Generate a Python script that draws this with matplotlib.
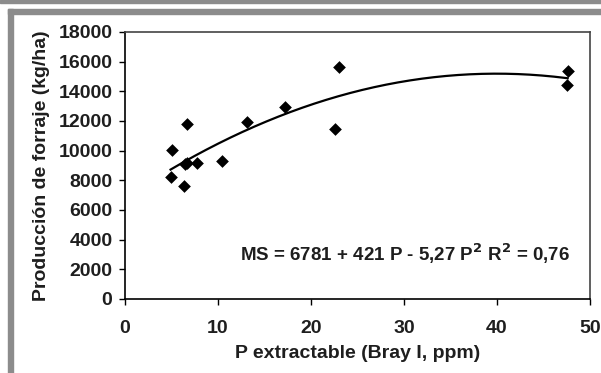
import matplotlib
matplotlib.use('Agg')
import matplotlib.pyplot as plt
import numpy as np
from matplotlib.patches import Rectangle

plt.rcParams['font.family'] = ['Liberation Sans', 'DejaVu Sans']
plt.rcParams['font.weight'] = 'bold'

# data
p_ppm = [4.9, 5.1, 6.3, 6.4, 6.7, 6.7, 7.7, 10.4, 13.1, 17.2, 22.6, 23.0, 47.5, 47.6]
forraje = [8250, 10050, 7620, 9100, 9150, 11800, 9150, 9300, 11950, 12950, 11450, 15650, 14400, 15350]

# trend line coefficients as printed in the chart
coef = [-5.27, 421, 6781]
x_ticks = [0, 10, 20, 30, 40, 50]
y_ticks = [0, 2000, 4000, 6000, 8000, 10000, 12000, 14000, 16000, 18000]

fig = plt.figure(figsize=(6.01, 3.73), dpi=100)

# gray frame bands
band = '#8c8c8c'
fig.patches.append(Rectangle((0, 1 - 3 / 373), 1, 3 / 373, transform=fig.transFigure,
                             color=band, zorder=0))
fig.patches.append(Rectangle((7.5 / 601, 1 - 14 / 373), 1, 5 / 373, transform=fig.transFigure,
                             color=band, zorder=0))
fig.patches.append(Rectangle((7.5 / 601, 0), 5 / 601, 1 - 9 / 373, transform=fig.transFigure,
                             color=band, zorder=0))

ax = fig.add_axes([125 / 601, 1 - 298.8 / 373, 465 / 601, (298.8 - 32) / 373])

ax.scatter(p_ppm, forraje, marker='D', s=42, color='black', zorder=3, linewidths=0)

xs = np.linspace(min(p_ppm), max(p_ppm), 200)
ax.plot(xs, np.polyval(coef, xs), color='black', lw=1.6, zorder=2)

ax.set_xlim(0, 50)
ax.set_ylim(0, 18000)
ax.set_xticks(x_ticks)
ax.set_yticks(y_ticks)
ax.tick_params(axis='both', labelsize=14, length=4, width=1, direction='out', pad=5)
ax.tick_params(axis='x', pad=11)
for lab in ax.get_xticklabels() + ax.get_yticklabels():
    lab.set_fontweight('bold')
    lab.set_color('#1e1e1e')

for s in ['left', 'bottom']:
    ax.spines[s].set_color('black')
    ax.spines[s].set_linewidth(1.2)
for s in ['top', 'right']:
    ax.spines[s].set_color('#444444')
    ax.spines[s].set_linewidth(1.2)

ax.set_xlabel('P extractable (Bray I, ppm)', fontsize=14, fontweight='bold', color='#1e1e1e', labelpad=6)
ax.set_ylabel('Producción de forraje (kg/ha)', fontsize=14, fontweight='bold', color='#1e1e1e', labelpad=6)

ax.text(0.957, 0.17, r'MS = 6781 + 421 P - 5,27 P$^\mathbf{2}$ R$^\mathbf{2}$ = 0,76',
        transform=ax.transAxes, ha='right', va='center', fontsize=13.5,
        fontweight='bold', color='#1e1e1e')

fig.savefig('out.png', dpi=100)
